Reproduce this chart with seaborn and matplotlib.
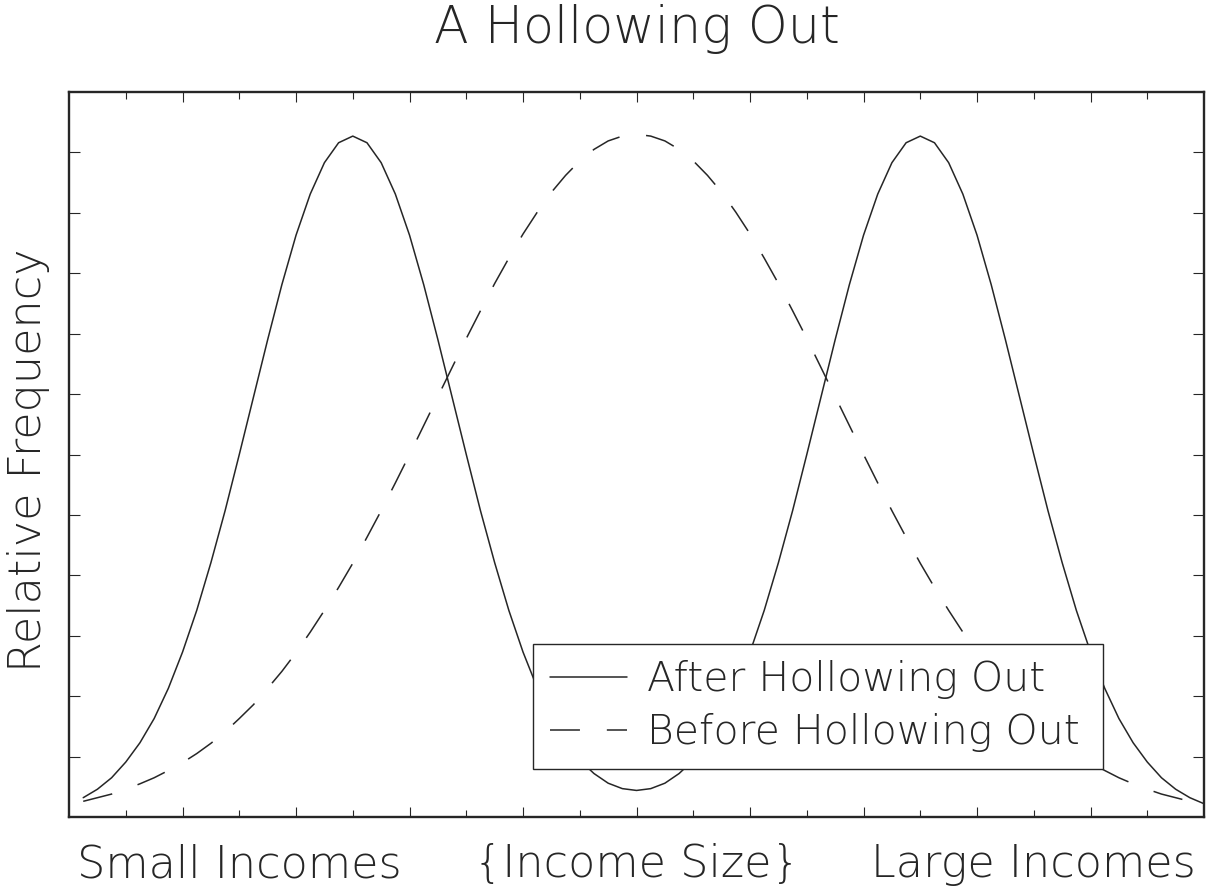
import matplotlib

matplotlib.use("Agg")
import matplotlib.pyplot as plt
import pandas as pd
import seaborn as sns

# Income size (arbitrary units) and relative frequency
income = [0.125, 0.25, 0.375, 0.5, 0.625, 0.75, 0.875, 1.0,
          1.125, 1.25, 1.375, 1.5, 1.625, 1.75, 1.875, 2.0,
          2.125, 2.25, 2.375, 2.5, 2.625, 2.75, 2.875, 3.0,
          3.125, 3.25, 3.375, 3.5, 3.625, 3.75, 3.875, 4.0,
          4.125, 4.25, 4.375, 4.5, 4.625, 4.75, 4.875, 5.0,
          5.125, 5.25, 5.375, 5.5, 5.625, 5.75, 5.875, 6.0,
          6.125, 6.25, 6.375, 6.5, 6.625, 6.75, 6.875, 7.0,
          7.125, 7.25, 7.375, 7.5, 7.625, 7.75, 7.875, 8.0,
          8.125, 8.25, 8.375, 8.5, 8.625, 8.75, 8.875, 9.0,
          9.125, 9.25, 9.375, 9.5, 9.625, 9.75, 9.875, 10.0]
after_hollowing = [0.32, 0.46, 0.65, 0.91, 1.23, 1.63, 2.13, 2.73,
                   3.42, 4.21, 5.07, 6.00, 6.95, 7.90, 8.81, 9.63,
                   10.31, 10.83, 11.16, 11.27, 11.16, 10.83, 10.31, 9.63,
                   8.81, 7.90, 6.95, 6.00, 5.07, 4.21, 3.42, 2.73,
                   2.14, 1.65, 1.25, 0.94, 0.72, 0.56, 0.47, 0.44,
                   0.47, 0.56, 0.72, 0.94, 1.25, 1.65, 2.14, 2.73,
                   3.42, 4.21, 5.07, 6.00, 6.95, 7.90, 8.81, 9.63,
                   10.31, 10.83, 11.16, 11.27, 11.16, 10.83, 10.31, 9.63,
                   8.81, 7.90, 6.95, 6.00, 5.07, 4.21, 3.42, 2.73,
                   2.13, 1.63, 1.23, 0.91, 0.65, 0.46, 0.32, 0.22]
before_hollowing = [0.26, 0.32, 0.38, 0.46, 0.55, 0.65, 0.77, 0.90,
                    1.05, 1.22, 1.41, 1.63, 1.86, 2.13, 2.41, 2.72,
                    3.06, 3.42, 3.80, 4.20, 4.63, 5.07, 5.53, 6.00,
                    6.48, 6.96, 7.44, 7.92, 8.38, 8.83, 9.25, 9.65,
                    10.01, 10.34, 10.62, 10.86, 11.05, 11.19, 11.27, 11.30,
                    11.27, 11.19, 11.05, 10.86, 10.62, 10.34, 10.01, 9.65,
                    9.25, 8.83, 8.38, 7.92, 7.44, 6.96, 6.48, 6.00,
                    5.53, 5.07, 4.63, 4.20, 3.80, 3.42, 3.06, 2.72,
                    2.41, 2.13, 1.86, 1.63, 1.41, 1.22, 1.05, 0.90,
                    0.77, 0.65, 0.55, 0.46, 0.38, 0.32, 0.26, 0.22]
series_names = ["After Hollowing Out", "Before Hollowing Out"]
income_labels = ["Small Incomes", "{Income Size}", "Large Incomes"]
income_label_pos = [1.5, 5.0, 8.5]


def main() -> None:
    sns.set_theme(style="ticks")
    plt.rcParams["font.family"] = ["DejaVu Sans"]
    plt.rcParams["font.weight"] = "light"
    plt.rcParams["axes.titleweight"] = "light"
    plt.rcParams["axes.labelweight"] = "light"
    ink = "#262626"

    df = pd.concat([
        pd.DataFrame({"income": income, "freq": after_hollowing, "series": series_names[0]}),
        pd.DataFrame({"income": income, "freq": before_hollowing, "series": series_names[1]}),
    ], ignore_index=True)

    fig = plt.figure(figsize=(12.09, 8.94), dpi=100)
    ax = fig.add_axes([0.0571, 0.0861, 0.9388, 0.8110])

    sns.lineplot(
        data=df, x="income", y="freq",
        style="series", style_order=series_names,
        dashes={series_names[0]: "", series_names[1]: (19.6, 17.6)},
        color=ink, linewidth=1.1, sort=False, ax=ax,
    )

    ax.set_xlim(0, 10)
    ax.set_ylim(0, 12)
    ax.set_xticks(list(range(1, 10)))
    ax.set_xticks([i + 0.5 for i in range(10)], minor=True)
    ax.set_yticks(list(range(1, 12)))
    ax.tick_params(which="both", direction="in", top=True, right=True,
                   labelbottom=False, labelleft=False, color=ink, width=0.8)
    ax.tick_params(axis="x", which="major", length=7.2)
    ax.tick_params(axis="x", which="minor", length=5)
    ax.tick_params(axis="y", which="major", length=8)
    for spine in ax.spines.values():
        spine.set_linewidth(1.7)
        spine.set_color(ink)
    ax.set_xlabel("")

    ax.set_title("A Hollowing Out", fontsize=36.5, pad=35, color=ink)
    ax.set_ylabel("Relative Frequency", fontsize=32, color=ink)
    ax.yaxis.set_label_coords(-0.017, 0.492)

    for pos, lab in zip(income_label_pos, income_labels):
        ax.text(pos, -0.0828, lab, transform=ax.get_xaxis_transform(),
                ha="center", va="baseline", fontsize=32, color=ink)

    handles, labels = ax.get_legend_handles_labels()
    leg = ax.legend(
        handles, labels, loc="lower left", mode="expand",
        bbox_to_anchor=(0.4088, 0.0662, 0.5022, 0.1766), borderaxespad=0,
        fontsize=29.5, handlelength=1.88, handletextpad=0.49, borderpad=0.41,
        labelspacing=0.34, frameon=True, fancybox=False, framealpha=1,
        edgecolor=ink, facecolor="white",
    )
    leg.get_frame().set_linewidth(1.0)
    for txt in leg.get_texts():
        txt.set_color(ink)

    fig.savefig("out.png", dpi=100)
    plt.close(fig)


if __name__ == "__main__":
    main()
